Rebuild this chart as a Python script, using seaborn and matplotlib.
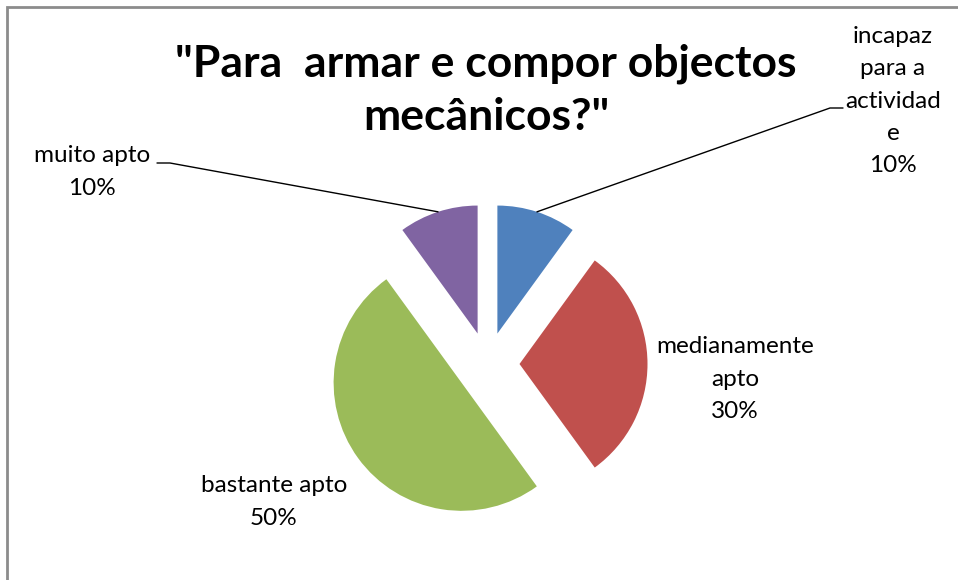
import numpy as np
import matplotlib.pyplot as plt
from matplotlib.patches import Rectangle
import seaborn as sns

# -----------------------------------
# Data
# -----------------------------------
labels = ["incapaz\npara a\nactividad\ne", "medianamente\napto", "bastante apto", "muito apto"]
values = [10, 30, 50, 10]
colors = ["#4F81BD", "#C0504D", "#9BBB59", "#8064A2"]
title = "\"Para  armar e compor objectos\nmecânicos?\""

# -----------------------------------
# Figure in pixel coordinates (y up)
# -----------------------------------
W, H = 958, 580
sns.set_theme(style="white")
plt.rcParams['font.family'] = ['Lato', 'DejaVu Sans']

fig = plt.figure(figsize=(W / 100, H / 100), dpi=100)
ax = fig.add_axes([0, 0, 1, 1])

R = 128
center = (487.5, H - 364)
# explode in matplotlib is an absolute offset -> 25% of radius
wedges, _ = ax.pie(values, colors=colors, startangle=90, counterclock=False,
                   radius=R, center=center, explode=[0.25 * R] * 4,
                   wedgeprops=dict(linewidth=0))

ax.set_xlim(0, W)
ax.set_ylim(0, H)
ax.set_aspect('equal')
ax.axis('off')

# chart frame (only left and top visible)
ax.add_patch(Rectangle((7, -20), 1100, H - 7 + 20, fill=False,
                       edgecolor="#8c8c8c", linewidth=2, clip_on=True))

# title
ax.text(486, H - 90, title, ha='center', va='center', fontsize=32,
        fontweight='bold', color='black', linespacing=1.4)

# data labels (pixel positions of label centres)
label_pos = [(893, 101), (735, 379), (274, 502), (92, 172)]
pct = [f"{v / sum(values) * 100:.0f}%" for v in values]
for (x, y), lab, p in zip(label_pos, labels, pct):
    ax.text(x, H - y, f"{lab}\n{p}", ha='center', va='center', fontsize=17.5,
            color='black', linespacing=1.66)

# leader lines: from the slice arc midpoint to the label
def arc_mid(w):
    th = np.deg2rad((w.theta1 + w.theta2) / 2)
    return w.center[0] + w.r * np.cos(th), w.center[1] + w.r * np.sin(th)

x0, y0 = arc_mid(wedges[0])
ax.plot([x0, 830, 843], [y0, H - 108, H - 108], color='black', lw=1)
x3, y3 = arc_mid(wedges[3])
ax.plot([x3, 170, 157], [y3, H - 163, H - 163], color='black', lw=1)

fig.savefig("out.png", dpi=100)
